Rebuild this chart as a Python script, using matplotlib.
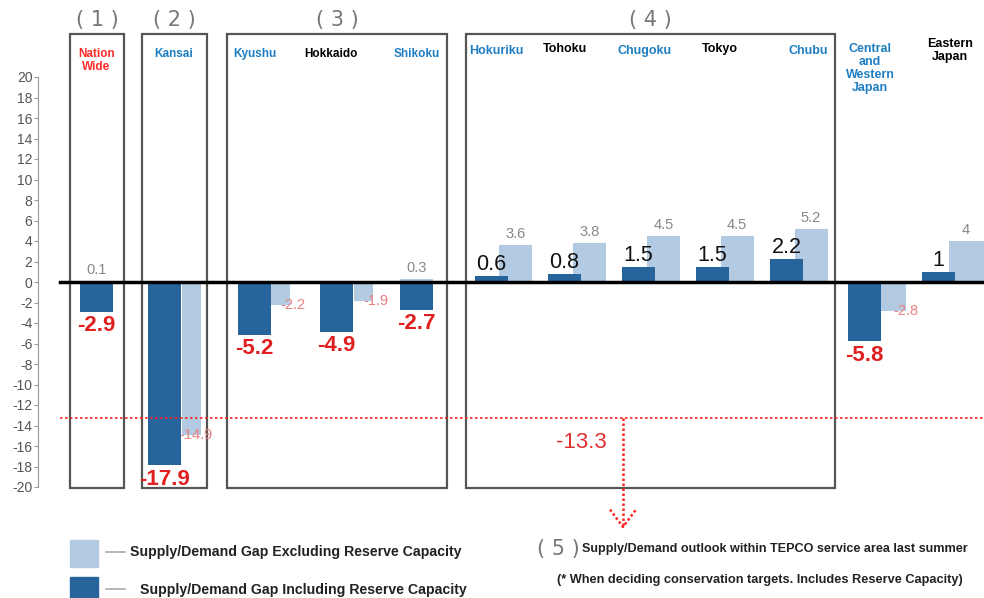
import matplotlib.pyplot as plt
from matplotlib.patches import Rectangle

plt.rcParams['font.family'] = ['Liberation Sans', 'DejaVu Sans']

# data
regions = ['Nation\nWide', 'Kansai', 'Kyushu', 'Hokkaido', 'Shikoku',
           'Hokuriku', 'Tohoku', 'Chugoku', 'Tokyo', 'Chubu',
           'Central\nand\nWestern\nJapan', 'Eastern\nJapan']
incl_reserve = [-2.9, -17.9, -5.2, -4.9, -2.7, 0.6, 0.8, 1.5, 1.5, 2.2, -5.8, 1]
excl_reserve = [0.1, -14.9, -2.2, -1.9, 0.3, 3.6, 3.8, 4.5, 4.5, 5.2, -2.8, 4]
region_colors = ['#ff2a2a', '#1f7ec2', '#1f7ec2', 'black', '#1f7ec2',
                 '#1f7ec2', 'black', '#1f7ec2', 'black', '#1f7ec2',
                 '#1f7ec2', 'black']
tepco_last_summer = -13.3
yticks = list(range(-20, 21, 2))

# layout (x in pixel-like units)
dark_x = [96.5, 164.5, 254, 336.5, 416.5, 491, 564.5, 638.5, 712.5, 786.5, 864.5, 938.5]
light_x = [96.5, 191.5, 280.5, 363.5, 416.5, 515.5, 589.5, 663.5, 737, 811, 893.5, 966]
light_w = [33, 19, 19, 19, 33, 33, 33, 33, 33, 33, 25, 35]
label_x = [96.5, 174, 255, 331, 417, 496, 565, 645, 720, 808, 870, 950]
label_y = [22.8, 22.8, 22.8, 22.8, 22.8, 23.1, 23.3, 23.1, 23.3, 23.1, 23.3, 23.8]
boxes = [(70, 124, '( 1 )'), (142, 207, '( 2 )'), (227, 447, '( 3 )'), (466, 835, '( 4 )')]

DARK = '#27649b'
LIGHT = '#b3cae3'

fig = plt.figure(figsize=(9.84, 5.98), dpi=100)
W, H = 984, 598
ax = fig.add_axes([38 / W, (H - 487) / H, (W - 38) / W, 410 / H])
ax.set_xlim(38, 984)
ax.set_ylim(-20, 20)

ax.bar(light_x, excl_reserve, width=light_w, color=LIGHT, zorder=2)
ax.bar(dark_x, incl_reserve, width=33, color=DARK, zorder=3)

for i in range(len(regions)):
    v = incl_reserve[i]
    if v < 0:
        ax.text(dark_x[i], v - 0.3, '%g' % v, ha='center', va='top', color='#e02020',
                fontsize=16, fontweight='bold', zorder=5)
    else:
        ax.text(dark_x[i], v + 0.1, '%g' % v, ha='center', va='bottom', color='#111111',
                fontsize=15.5, zorder=5)
    e = excl_reserve[i]
    if e < 0:
        off = 4 if e < -10 else 12
        ax.text(light_x[i] + off, e, '%g' % e, ha='center', va='center', color='#e88080',
                fontsize=10.5, zorder=5)
    else:
        ax.text(light_x[i], e + 0.4, '%g' % e, ha='center', va='bottom', color='#888888',
                fontsize=10.5, zorder=5)
    ax.text(label_x[i], label_y[i], regions[i], ha='center', va='top', color=region_colors[i],
            fontsize=8.5 if i < 5 else 9, fontweight='bold', linespacing=1.1, clip_on=False)

# group boxes
for x0, x1, name in boxes:
    ax.add_patch(Rectangle((x0, -20.1), x1 - x0, 44.3, fill=False, edgecolor='#555555',
                           lw=1.6, clip_on=False, zorder=1))
    ax.text((x0 + x1) / 2, 25.6, name, ha='center', va='center', color='#777777',
            fontsize=15, family='DejaVu Sans', clip_on=False)

# zero line and TEPCO reference line
ax.plot([60, 984], [0, 0], color='black', lw=2.5, zorder=4, clip_on=False)
ax.plot([60, 984], [tepco_last_summer] * 2, color='#ff2020', lw=1.2, ls=(0, (1.5, 1.5)),
        zorder=4, clip_on=False)
ax.text(581, tepco_last_summer - 2.4, '%g' % tepco_last_summer, ha='center', va='center',
        color='#e03030', fontsize=16)
ax.plot([623, 623], [tepco_last_summer, -23.9], color='#ff2020', lw=1.8, ls=(0, (1, 1)),
        clip_on=False)
ax.plot([610, 623, 636], [-22.2, -23.9, -22.2], color='#ff2020', lw=1.8, ls=(0, (1, 1)),
        clip_on=False)

# axis styling
for s in ['top', 'right', 'bottom']:
    ax.spines[s].set_visible(False)
ax.spines['left'].set_color('#999999')
ax.spines['left'].set_linewidth(0.8)
ax.set_xticks([])
ax.set_yticks(yticks)
ax.set_yticklabels(['%d' % t for t in yticks])
ax.tick_params(axis='y', length=3, width=0.8, color='#999999', labelcolor='#555555',
               labelsize=10, pad=1)

# legend and footnotes
def fx(px):
    return px / W

def fy(py):
    return (H - py) / H

fig.add_artist(Rectangle((fx(70), fy(567)), 28 / W, 27 / H, color=LIGHT, transform=fig.transFigure))
fig.add_artist(Rectangle((fx(70), fy(598)), 28 / W, 21 / H, color=DARK, transform=fig.transFigure))
fig.add_artist(plt.Line2D([fx(106), fx(125)], [fy(552), fy(552)], color='#aaaaaa', lw=1.2,
                          transform=fig.transFigure))
fig.add_artist(plt.Line2D([fx(106), fx(125)], [fy(589), fy(589)], color='#aaaaaa', lw=1.2,
                          transform=fig.transFigure))
fig.text(fx(130), fy(552), 'Supply/Demand Gap Excluding Reserve Capacity', ha='left', va='center',
         fontsize=10.2, fontweight='bold', color='#222222')
fig.text(fx(140), fy(590), 'Supply/Demand Gap Including Reserve Capacity', ha='left', va='center',
         fontsize=10.2, fontweight='bold', color='#222222')
fig.text(fx(558), fy(549), '( 5 )', ha='center', va='center', fontsize=15, color='#777777',
         family='DejaVu Sans')
fig.text(fx(582), fy(549), 'Supply/Demand outlook within TEPCO service area last summer',
         ha='left', va='center', fontsize=9.1, fontweight='bold', color='#222222')
fig.text(fx(557), fy(580), '(* When deciding conservation targets. Includes Reserve Capacity)',
         ha='left', va='center', fontsize=9.2, fontweight='bold', color='#222222')

fig.savefig('out.png', dpi=100)
